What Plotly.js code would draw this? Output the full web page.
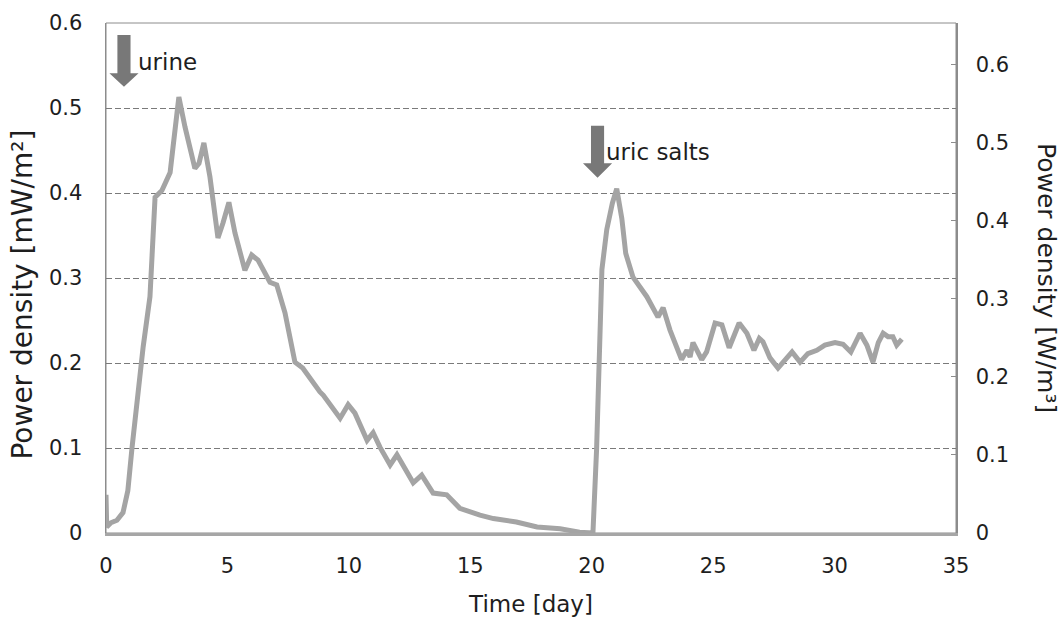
<!DOCTYPE html>
<html>
<head>
<meta charset="utf-8">
<script src="https://cdn.plot.ly/plotly-3.0.1.min.js"></script>
<style>html,body{margin:0;padding:0;background:#fff;}#chart{width:1062px;height:626px;}</style>
</head>
<body>
<div id="chart"></div>
<script>
// Time in days
const timeDay = [
  0, 0.03, 0.2, 0.45, 0.7, 0.9, 1.07, 1.27, 1.53, 1.81, 2.02, 2.3, 2.64, 2.76, 3.0, 3.25, 3.66, 3.83, 4.03, 4.28,
  4.61, 4.82, 5.06, 5.31, 5.72, 6.0, 6.26, 6.75, 7.03, 7.37, 7.78, 8.1, 8.48, 8.81, 8.95, 9.64, 9.97, 10.25, 10.75, 11.0,
  11.28, 11.7, 11.98, 12.52, 12.65, 13.0, 13.47, 14.03, 14.57, 15.4, 15.95, 16.9, 17.75, 18.7, 19.5, 20.05,
  20.2, 20.42, 20.62, 20.85, 21.03, 21.24, 21.4, 21.7, 21.99, 22.27, 22.73, 22.94, 23.22, 23.7, 23.92, 24.05, 24.17,
  24.53, 24.73, 25.08, 25.36, 25.66, 26.07, 26.39, 26.68, 26.9, 27.05, 27.34, 27.67, 27.96, 28.25, 28.58, 28.9,
  29.27, 29.6, 30.02, 30.35, 30.67, 31.05, 31.33, 31.58, 31.8, 32.0, 32.2, 32.4, 32.56, 32.77
];
// Power density in mW/m2
const powerDensity = [
  0.045, 0.007, 0.012, 0.015, 0.024, 0.05, 0.10, 0.156, 0.219, 0.278, 0.395, 0.403, 0.424, 0.454, 0.513, 0.478, 0.429, 0.435, 0.459, 0.419,
  0.347, 0.365, 0.389, 0.353, 0.309, 0.327, 0.321, 0.295, 0.292, 0.259, 0.201, 0.194, 0.178, 0.166, 0.162, 0.135, 0.151, 0.141, 0.109, 0.118,
  0.101, 0.08, 0.092, 0.066, 0.059, 0.068, 0.047, 0.045, 0.029, 0.021, 0.017, 0.013, 0.007, 0.005, 0.001, 0.0,
  0.098, 0.31, 0.357, 0.388, 0.405, 0.37, 0.329, 0.301, 0.29, 0.278, 0.254, 0.265, 0.239, 0.204, 0.215, 0.207, 0.224,
  0.204, 0.213, 0.247, 0.245, 0.218, 0.247, 0.235, 0.215, 0.229, 0.225, 0.206, 0.194, 0.204, 0.213, 0.201, 0.211,
  0.215, 0.221, 0.224, 0.222, 0.213, 0.235, 0.221, 0.201, 0.224, 0.235, 0.231, 0.231, 0.221, 0.228
];
const xTicks = [0, 5, 10, 15, 20, 25, 30, 35];
const yLeftTicks = [0, 0.1, 0.2, 0.3, 0.4, 0.5, 0.6];
const yRightTicks = [0, 0.1, 0.2, 0.3, 0.4, 0.5, 0.6];

const xTitle = 'Time [day]';
const yLeftTitle = 'Power density [mW/m²]';
const yRightTitle = 'Power density [W/m³]';

// Event markers
const eventLabels = ['urine', 'uric salts'];
const eventDays = [0.74, 20.24];
const eventShaftTop = [0.586, 0.479];
const eventShaftBottom = [0.541, 0.435];
const eventTip = [0.525, 0.418];
const labelDays = [1.24, 20.5];
const labelY = [0.554, 0.448];

const FONT = '"DejaVu Sans", sans-serif';
const TXT = '#1e1e1e';
const ARROW = '#787878';
const shaftHalf = 0.27, headHalf = 0.6;

const shapes = [];
for (let i = 0; i < eventDays.length; i++) {
  const c = eventDays[i];
  const p = `M ${c - shaftHalf} ${eventShaftTop[i]} L ${c + shaftHalf} ${eventShaftTop[i]} L ${c + shaftHalf} ${eventShaftBottom[i]} ` +
            `L ${c + headHalf} ${eventShaftBottom[i]} L ${c} ${eventTip[i]} L ${c - headHalf} ${eventShaftBottom[i]} ` +
            `L ${c - shaftHalf} ${eventShaftBottom[i]} Z`;
  shapes.push({type: 'path', xref: 'x', yref: 'y', path: p, fillcolor: ARROW, line: {width: 0}});
}
// frame
shapes.push({type: 'rect', xref: 'paper', yref: 'paper', x0: 0, x1: 1, y0: 0, y1: 1,
  line: {color: '#8c8c8c', width: 1}, layer: 'below'});

const annotations = eventLabels.map((t, i) => ({
  text: t, x: labelDays[i], y: labelY[i], xref: 'x', yref: 'y', xanchor: 'left', yanchor: 'middle',
  showarrow: false, font: {family: FONT, size: 23, color: TXT}
}));
annotations.push({
  text: yLeftTitle, xref: 'paper', yref: 'paper', x: -0.098, y: 0.467, xanchor: 'center', yanchor: 'middle',
  textangle: -90, showarrow: false, font: {family: FONT, size: 28, color: TXT}
});
annotations.push({
  text: yRightTitle, xref: 'paper', yref: 'paper', x: 1.107, y: 0.5, xanchor: 'center', yanchor: 'middle',
  textangle: 90, showarrow: false, font: {family: FONT, size: 25, color: TXT}
});

const data = [{
  x: timeDay, y: powerDensity, type: 'scatter', mode: 'lines',
  line: {color: '#a4a4a4', width: 5, shape: 'linear'}, hoverinfo: 'skip'
}, {
  x: [], y: [], yaxis: 'y2', type: 'scatter', mode: 'lines', showlegend: false
}];

const layout = {
  width: 1062, height: 626,
  margin: {l: 106, r: 106, t: 23, b: 93},
  paper_bgcolor: '#ffffff', plot_bgcolor: '#ffffff',
  showlegend: false,
  font: {family: FONT, color: TXT},
  xaxis: {
    range: [0, 35], tickvals: xTicks, ticktext: xTicks.map(String), ticks: '',
    showgrid: false, zeroline: false, showline: true, linecolor: '#a6a6a6', linewidth: 3,
    tickfont: {family: FONT, size: 21, color: TXT}, ticklabelstandoff: 12,
    title: {text: xTitle, font: {family: FONT, size: 23, color: TXT}, standoff: 19}
  },
  yaxis: {
    range: [0, 0.6], tickvals: yLeftTicks, ticktext: yLeftTicks.map(String), ticks: '',
    showgrid: true, gridcolor: '#7a7a7a', gridwidth: 1, griddash: '6px,3px',
    zeroline: false, showline: true, linecolor: '#8c8c8c', linewidth: 1.5,
    tickfont: {family: FONT, size: 21, color: TXT}, ticklabelstandoff: 18
  },
  yaxis2: {
    overlaying: 'y', side: 'right', range: [0, 0.6538],
    tickvals: yRightTicks, ticktext: yRightTicks.map(String),
    ticks: 'inside', ticklen: 5, tickcolor: '#8c8c8c', tickwidth: 1,
    showgrid: false, zeroline: false, showline: true, linecolor: '#8c8c8c', linewidth: 1.5,
    tickfont: {family: FONT, size: 21, color: TXT}, ticklabelstandoff: 14
  },
  shapes: shapes,
  annotations: annotations
};

Plotly.newPlot('chart', data, layout, {displayModeBar: false, staticPlot: true});
</script>
</body>
</html>
